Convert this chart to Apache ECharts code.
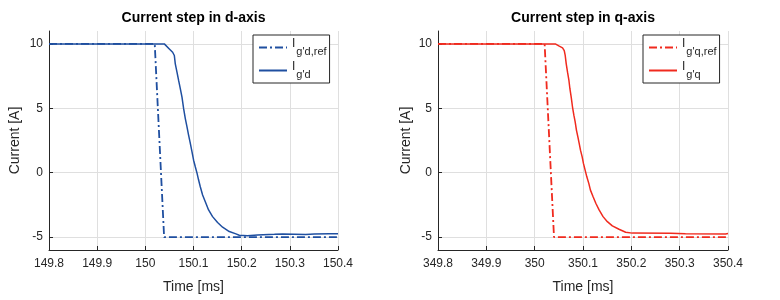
<!DOCTYPE html>
<html><head><meta charset="utf-8">
<script src="https://cdn.jsdelivr.net/npm/echarts@6/dist/echarts.min.js"></script>
<style>html,body{margin:0;padding:0;background:#fff}#c{width:780px;height:300px}</style>
</head><body><div id="c"></div>
<script>
const titles = ['Current step in d-axis', 'Current step in q-axis'];
const xTicksD = [149.8, 149.9, 150, 150.1, 150.2, 150.3, 150.4];
const xTicksQ = [349.8, 349.9, 350, 350.1, 350.2, 350.3, 350.4];
const yTicks = [-5, 0, 5, 10];
const yRange = [-6, 11];

const namesD = ["I_g'd,ref", "I_g'd"];
const namesQ = ["I_g'q,ref", "I_g'q"];

const tRefD = [149.8, 150.0195, 150.039, 150.4];
const iRefD = [10, 10, -5, -5];
const tActD = [149.8, 150.0394, 150.0498, 150.0567, 150.0602, 150.0622, 150.0657, 150.0691, 150.0726, 150.0761, 150.0795, 150.083, 150.0865, 150.0898, 150.0934, 150.0969, 150.1002, 150.1037, 150.1073, 150.1106, 150.1141, 150.1189, 150.1245, 150.1313, 150.1396, 150.15, 150.1604, 150.1743, 150.1881, 150.195, 150.212, 150.233, 150.268, 150.285, 150.333, 150.351, 150.382, 150.4];
const iActD = [10, 10, 9.61, 9.35, 9.1, 8.45, 7.8, 7.16, 6.52, 5.87, 4.97, 4.2, 3.55, 2.91, 2.27, 1.62, 0.97, 0.46, -0.03, -0.57, -1.09, -1.73, -2.25, -2.89, -3.41, -3.87, -4.23, -4.57, -4.75, -4.85, -4.9, -4.83, -4.78, -4.75, -4.8, -4.75, -4.73, -4.73];

const tRefQ = [349.8, 350.0206, 350.040, 350.4];
const iRefQ = [10, 10, -5, -5];
const tActQ = [349.8, 350.0426, 350.0509, 350.0577, 350.0612, 350.0632, 350.0653, 350.068, 350.0709, 350.0729, 350.0756, 350.0783, 350.0812, 350.0838, 350.0865, 350.0894, 350.0921, 350.0948, 350.0983, 350.1009, 350.1044, 350.1079, 350.112, 350.1154, 350.1209, 350.1265, 350.1333, 350.1415, 350.1504, 350.1607, 350.1745, 350.1883, 350.202, 350.281, 350.312, 350.395, 350.4];
const iActQ = [10, 10, 9.82, 9.69, 9.48, 9.1, 8.45, 7.8, 7.16, 6.52, 5.87, 5.1, 4.45, 3.94, 3.29, 2.78, 2.27, 1.75, 1.23, 0.72, 0.2, -0.32, -0.83, -1.35, -1.86, -2.37, -2.89, -3.41, -3.8, -4.13, -4.39, -4.62, -4.69, -4.70, -4.74, -4.76, -4.72];

const blue = '#1f4fa0';
const red = '#f02a1e';
const axisColor = '#262626';
const font = 'Liberation Sans, Arial, Helvetica, sans-serif';
const zip = (a, b) => a.map((v, i) => [v, b[i]]);
const fmt = v => String(Math.round(v * 10) / 10);

function xAxis(gi, ticks) {
  return {
    type: 'value', gridIndex: gi, min: ticks[0], max: ticks[ticks.length - 1],
    name: 'Time [ms]', nameLocation: 'middle', nameGap: 30,
    nameTextStyle: { fontSize: 14, color: axisColor, fontFamily: font },
    axisLine: { show: true, onZero: false, lineStyle: { color: axisColor, width: 1 } },
    axisTick: { show: true, inside: true, length: 4, customValues: ticks, lineStyle: { color: axisColor } },
    axisLabel: { customValues: ticks, formatter: fmt, fontSize: 12, color: axisColor, fontFamily: font, margin: 8, showMinLabel: true, showMaxLabel: true },
    splitLine: { show: true, lineStyle: { color: '#dfdfdf', width: 1 } }
  };
}
function yAxis(gi, gap) {
  return {
    type: 'value', gridIndex: gi, min: yRange[0], max: yRange[1],
    name: 'Current [A]', nameLocation: 'middle', nameGap: gap,
    nameTextStyle: { fontSize: 14, color: axisColor, fontFamily: font },
    axisLine: { show: true, onZero: false, lineStyle: { color: axisColor, width: 1 } },
    axisTick: { show: true, inside: true, length: 4, customValues: yTicks, lineStyle: { color: axisColor } },
    axisLabel: { customValues: yTicks, fontSize: 12, color: axisColor, fontFamily: font, margin: 6 },
    splitLine: { show: true, lineStyle: { color: '#dfdfdf', width: 1 } }
  };
}
function legend(names, left) {
  return {
    data: names, orient: 'vertical', left: left, top: 35,
    backgroundColor: '#fff', borderColor: axisColor, borderWidth: 1, borderRadius: 0,
    padding: [3, 3, 3, 5], itemWidth: 28, itemHeight: 14, itemGap: 4,
    itemStyle: { opacity: 0 },
    formatter: n => { const p = n.split('_'); return '{i|' + p[0] + '}{s|' + p[1] + '}'; },
    textStyle: {
      color: axisColor, fontFamily: font,
      rich: {
        i: { fontSize: 12, fontFamily: font, color: axisColor, verticalAlign: 'top', padding: [0, 1, 0, 0] },
        s: { fontSize: 11, fontFamily: font, color: axisColor, verticalAlign: 'top', padding: [8, 0, 0, 0] }
      }
    }
  };
}
function line(name, data, color, gi, dashed) {
  return {
    type: 'line', name: name, xAxisIndex: gi, yAxisIndex: gi, data: data,
    symbol: 'none', animation: false, z: dashed ? 3 : 2,
    lineStyle: { color: color, width: dashed ? 1.8 : 1.5, type: dashed ? [8, 3, 2, 3] : 'solid' },
    itemStyle: { color: color }
  };
}

const chart = echarts.init(document.getElementById('c'), null, { renderer: 'canvas' });
chart.setOption({
  animation: false,
  backgroundColor: '#fff',
  title: [
    { text: titles[0], left: 193.5, top: 11, textAlign: 'center', padding: 0, textStyle: { fontSize: 14, fontWeight: 'bold', color: '#000', fontFamily: font } },
    { text: titles[1], left: 583, top: 11, textAlign: 'center', padding: 0, textStyle: { fontSize: 14, fontWeight: 'bold', color: '#000', fontFamily: font } }
  ],
  grid: [
    { left: 49, right: 442, top: 31, bottom: 50 },
    { left: 438, right: 52, top: 31, bottom: 50 }
  ],
  xAxis: [xAxis(0, xTicksD), xAxis(1, xTicksQ)],
  yAxis: [yAxis(0, 27), yAxis(1, 25)],
  legend: [legend(namesD, 253), legend(namesQ, 643)],
  series: [
    line(namesD[0], zip(tRefD, iRefD), blue, 0, true),
    line(namesD[1], zip(tActD, iActD), blue, 0, false),
    line(namesQ[0], zip(tRefQ, iRefQ), red, 1, true),
    line(namesQ[1], zip(tActQ, iActQ), red, 1, false)
  ]
});
</script></body></html>
